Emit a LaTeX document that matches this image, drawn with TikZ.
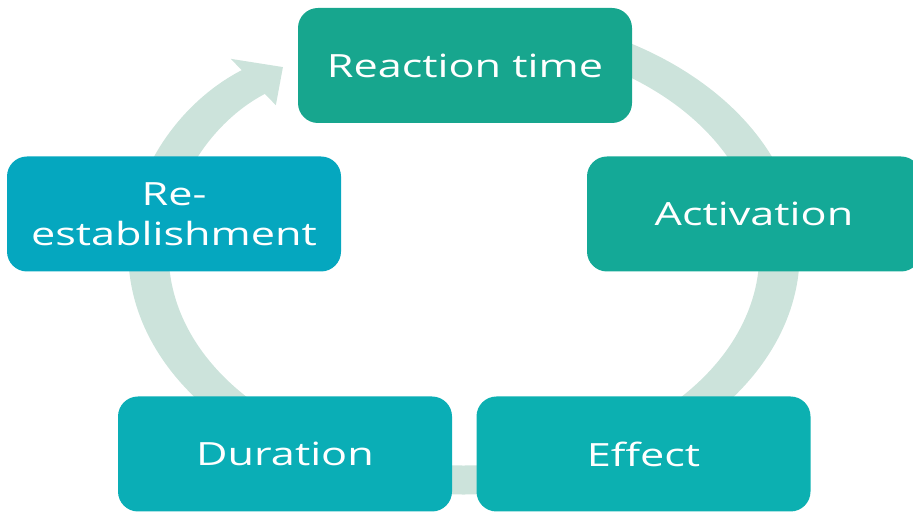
\documentclass[tikz,border=0pt]{standalone}
\usepackage{fontspec}
\setmainfont{Open Sans}[FakeStretch=1.35]
\usepackage{tikz}
\usetikzlibrary{arrows.meta}
\definecolor{RINGGREEN}{HTML}{CCE3DB}
\definecolor{TEAL_1}{HTML}{17A68E}
\definecolor{TEAL_2}{HTML}{14A997}
\definecolor{TEAL_3}{HTML}{0CB0B1}
\definecolor{TEAL_4}{HTML}{0AAEB6}
\definecolor{TEAL_5}{HTML}{05A7BF}

\begin{document}
\begin{tikzpicture}[x=1pt, y=1pt]
% Define
\tikzstyle{BOX} = [rectangle, rounded corners=20pt, minimum width=334pt, minimum height=115pt, inner sep=0pt, align=center, text=white, font=\fontsize{32}{40}\selectfont]
\tikzstyle{RING} = [draw=RINGGREEN, line width=29pt, -{Triangle[length=0pt 0.9, width=0pt 1.9]}]
\useasboundingbox (0,0) rectangle (913,513);
% Ring behind the boxes
\begin{scope}[transform canvas={xscale=1.39}]
\coordinate (ring_c) at (333.8,260);
\draw [RING] (ring_c) ++(95:227) arc [start angle=95, end angle=-235, radius=227];
\end{scope}
% Place nodes
\node [BOX, fill=TEAL_1] (reaction) at (465,447.5) {Reaction time};
\node [BOX, fill=TEAL_2] (activation) at (754,299) {Activation};
\node [BOX, fill=TEAL_3] (effect) at (643.5,59) {Effect};
\node [BOX, fill=TEAL_4] (duration) at (285,59) {Duration};
\node [BOX, fill=TEAL_5] (reestablish) at (174,299) {Re-\\establishment};
\end{tikzpicture}
\end{document}
